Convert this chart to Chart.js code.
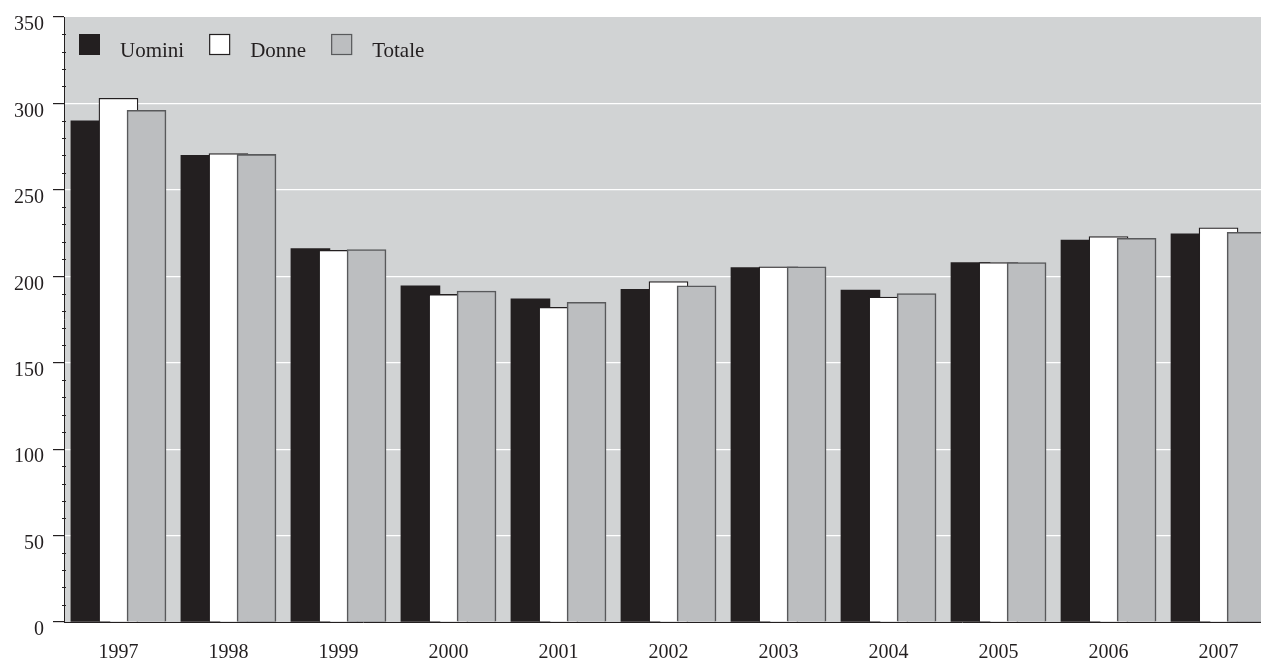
<!DOCTYPE html>
<html>
<head>
<meta charset="utf-8">
<script src="https://cdn.jsdelivr.net/npm/chart.js@4"></script>
<style>
  html, body { margin: 0; padding: 0; background: #fff; overflow: hidden; }
  #wrap { width: 1261px; height: 662px; }
</style>
</head>
<body>
<div id="wrap"><canvas id="chart" width="1261" height="662"></canvas></div>
<script>
// Data
const years = ['1997', '1998', '1999', '2000', '2001', '2002', '2003', '2004', '2005', '2006', '2007'];
const uomini = [290, 270, 216, 194.5, 187, 192.5, 205, 192, 208, 221, 224.5];
const donne  = [303, 271, 215, 189.5, 182, 197, 205.5, 188, 208, 223, 228];
const totale = [296, 270.5, 215.5, 191.5, 185, 194.5, 205.5, 190, 208, 222, 225.5];
const yTicks = [0, 50, 100, 150, 200, 250, 300, 350];

const FONT = 'Liberation Serif';
const INK = '#231f20';
const STEP = 0.255; // shift of the side bars, in category units

function points(values, shift) {
  return values.map((v, i) => ({ x: i + shift, y: v }));
}

// grey plot background
const plotBg = {
  id: 'plotBg',
  beforeDraw(chart) {
    const { ctx, chartArea: a } = chart;
    ctx.save();
    ctx.fillStyle = '#d1d3d4';
    ctx.fillRect(a.left, a.top, a.right - a.left, a.bottom - a.top);
    ctx.restore();
  }
};

// small ticks every 10 on the y axis
const minorTicks = {
  id: 'minorTicks',
  afterDraw(chart) {
    const { ctx, chartArea: a, scales: { y } } = chart;
    ctx.save();
    ctx.strokeStyle = INK;
    ctx.lineWidth = 1;
    for (let v = 10; v < 350; v += 10) {
      if (v % 50 === 0) continue;
      const py = Math.round(y.getPixelForValue(v)) + 0.5;
      ctx.beginPath();
      ctx.moveTo(a.left - 2, py);
      ctx.lineTo(a.left + 2, py);
      ctx.stroke();
    }
    ctx.restore();
  }
};

// legend inside the plot, top left
const innerLegend = {
  id: 'innerLegend',
  afterDraw(chart) {
    const { ctx, chartArea: a } = chart;
    ctx.save();
    ctx.font = '21px "' + FONT + '"';
    ctx.textBaseline = 'alphabetic';
    let x = a.left + 15;
    const top = a.top + 17;
    chart.data.datasets.forEach(ds => {
      ctx.fillStyle = ds.backgroundColor;
      ctx.fillRect(x, top, 21, 21);
      if (ds.label !== 'Uomini') {
        ctx.strokeStyle = ds.borderColor;
        ctx.lineWidth = 1.2;
        ctx.strokeRect(x + 0.5, top + 0.5, 20, 20);
      }
      ctx.fillStyle = INK;
      ctx.fillText(ds.label, x + 41, top + 23);
      x += 41 + ctx.measureText(ds.label).width + 25;
    });
    ctx.restore();
  }
};

new Chart(document.getElementById('chart'), {
  type: 'bar',
  data: {
    datasets: [
      { label: 'Uomini', data: points(uomini, -STEP), backgroundColor: INK, borderColor: INK, borderWidth: 0, order: 3 },
      { label: 'Donne', data: points(donne, 0), backgroundColor: '#ffffff', borderColor: '#231f20', borderWidth: 1.3, order: 2 },
      { label: 'Totale', data: points(totale, STEP), backgroundColor: '#bcbec0', borderColor: '#58595b', borderWidth: 1.6, order: 1 }
    ]
  },
  options: {
    responsive: false,
    animation: false,
    events: [],
    grouped: false,
    barThickness: 39,
    layout: { padding: { top: 17, right: 0, bottom: 0, left: 0 } },
    plugins: {
      legend: { display: false },
      tooltip: { enabled: false }
    },
    scales: {
      x: {
        type: 'linear',
        offset: false,
        min: -0.495,
        max: 10.386,
        afterFit(scale) {
          scale.height = 40;
          scale.paddingLeft = 0;
          scale.paddingRight = 0;
        },
        grid: { display: true, offset: false, drawOnChartArea: false, drawTicks: false, color: 'rgba(0,0,0,0)' },
        border: { display: true, color: INK, width: 1 },
        ticks: {
          stepSize: 1,
          includeBounds: false,
          autoSkip: false,
          maxRotation: 0,
          padding: 19,
          color: INK,
          font: { family: FONT, size: 20 },
          callback: v => (Number.isInteger(v) && years[v]) ? years[v] : ''
        }
      },
      y: {
        min: 0,
        max: 350,
        afterFit(scale) {
          scale.width = 64;
          scale.paddingTop = 0;
          scale.paddingBottom = 0;
        },
        afterBuildTicks(scale) { scale.ticks = yTicks.map(v => ({ value: v })); },
        grid: {
          color: ctx => (ctx.tick && ctx.tick.value > 0 && ctx.tick.value < 350) ? '#ffffff' : 'rgba(0,0,0,0)',
          tickColor: INK,
          tickLength: 11,
          lineWidth: 1.2
        },
        border: { display: true, color: INK, width: 1 },
        ticks: {
          padding: 9,
          labelOffset: 8,
          color: INK,
          font: { family: FONT, size: 20 }
        }
      }
    }
  },
  plugins: [plotBg, minorTicks, innerLegend]
});
</script>
</body>
</html>
